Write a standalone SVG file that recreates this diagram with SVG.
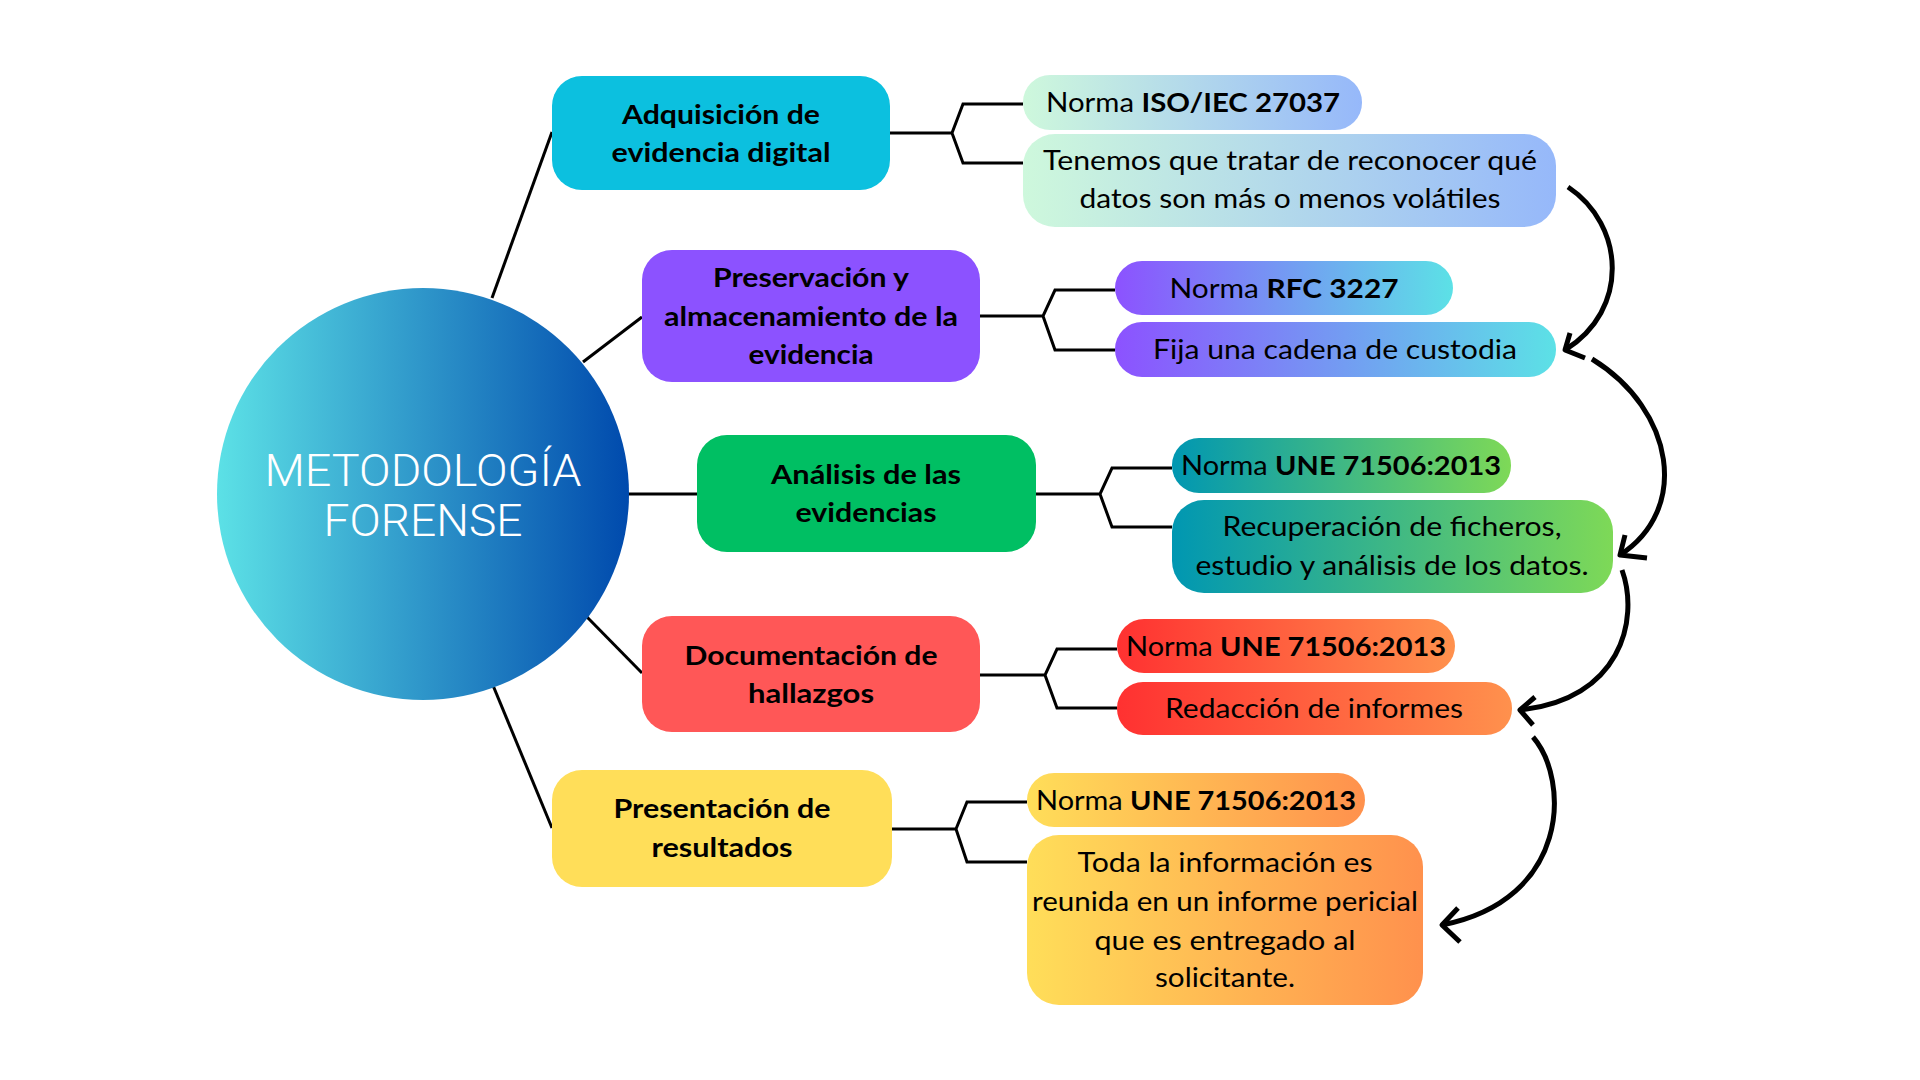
<svg xmlns="http://www.w3.org/2000/svg" width="1920" height="1080" viewBox="0 0 1920 1080">
<defs>
<linearGradient id="gCircle" x1="0" y1="0" x2="1" y2="0"><stop offset="0" stop-color="#5ce1e6"/><stop offset="1" stop-color="#004aad"/></linearGradient>
<linearGradient id="g1" x1="0" y1="0" x2="1" y2="0"><stop offset="0" stop-color="#cef8dc"/><stop offset="1" stop-color="#96b8fa"/></linearGradient>
<linearGradient id="g2" x1="0" y1="0" x2="1" y2="0"><stop offset="0" stop-color="#8c52ff"/><stop offset="1" stop-color="#5ce1e6"/></linearGradient>
<linearGradient id="g3" x1="0" y1="0" x2="1" y2="0"><stop offset="0" stop-color="#0097b2"/><stop offset="1" stop-color="#7ed957"/></linearGradient>
<linearGradient id="g4" x1="0" y1="0" x2="1" y2="0"><stop offset="0" stop-color="#ff3131"/><stop offset="1" stop-color="#ff914d"/></linearGradient>
<linearGradient id="g5" x1="0" y1="0" x2="1" y2="0"><stop offset="0" stop-color="#ffde59"/><stop offset="1" stop-color="#ff914d"/></linearGradient>
</defs>
<style>
.main{font-family:Lato,"Liberation Sans",sans-serif;font-weight:700;font-size:26px;fill:#000;text-anchor:middle}
.sub{font-family:Lato,"Liberation Sans",sans-serif;font-weight:400;font-size:27px;fill:#000;text-anchor:middle}
.sub .b{font-weight:700}
.title{font-family:Roboto,"Liberation Sans",sans-serif;font-weight:300;font-size:44px;fill:#fff;text-anchor:middle}
.ln{fill:none;stroke:#000;stroke-width:3;stroke-linejoin:miter}
.arr{fill:none;stroke:#000;stroke-width:5;stroke-linecap:butt;stroke-linejoin:round}
</style>
<rect width="1920" height="1080" fill="#fff"/>

<g id="connectors">
<path class="ln" d="M492,298 L552,132"/>
<path class="ln" d="M583,362 L642,317"/>
<path class="ln" d="M628,494 L697,494"/>
<path class="ln" d="M587,617 L642,673"/>
<path class="ln" d="M492,683 L552,828"/>
<path class="ln" d="M890,133 L952,133 M1023,104 L963,104 L952,133 L963,163 L1023,163"/>
<path class="ln" d="M980,316 L1043,316 M1115,290 L1055,290 L1043,316 L1055,350 L1115,350"/>
<path class="ln" d="M1036,494 L1100,494 M1172,468 L1112,468 L1100,494 L1112,527 L1172,527"/>
<path class="ln" d="M980,675 L1045,675 M1117,649 L1057,649 L1045,675 L1057,708 L1117,708"/>
<path class="ln" d="M892,829 L956,829 M1027,802 L967,802 L956,829 L967,862 L1027,862"/>
<path class="arr" d="M1568,187 C1625,225 1630,310 1565,350"/>
<path class="arr" d="M1570,333 L1565,350 L1585,358"/>
<path class="arr" d="M1592,359 C1675,410 1690,510 1620,555"/>
<path class="arr" d="M1625,535 L1620,555 L1647,558"/>
<path class="arr" d="M1622,570 C1640,620 1620,700 1520,710"/>
<path class="arr" d="M1535,697 L1520,710 L1533,725"/>
<path class="arr" d="M1533,737 C1570,780 1570,900 1442,925"/>
<path class="arr" d="M1458,908 L1442,925 L1460,942"/>
</g>

<g id="center">
<circle cx="423" cy="494" r="206" fill="url(#gCircle)"/>
<text class="title" x="423" y="486" textLength="317" lengthAdjust="spacingAndGlyphs">METODOLOGÍA</text>
<text class="title" x="423" y="536" textLength="199" lengthAdjust="spacingAndGlyphs">FORENSE</text>
</g>

<g id="n1">
<rect x="552" y="76" width="338" height="114" rx="30" fill="#0cc0df"/>
<text class="main" x="721" y="124" textLength="198" lengthAdjust="spacingAndGlyphs">Adquisición de</text>
<text class="main" x="721" y="162" textLength="219" lengthAdjust="spacingAndGlyphs">evidencia digital</text>
</g>
<g id="n2">
<rect x="642" y="250" width="338" height="132" rx="30" fill="#8c52ff"/>
<text class="main" x="811" y="287" textLength="196" lengthAdjust="spacingAndGlyphs">Preservación y</text>
<text class="main" x="811" y="326" textLength="294" lengthAdjust="spacingAndGlyphs">almacenamiento de la</text>
<text class="main" x="811" y="364" textLength="125" lengthAdjust="spacingAndGlyphs">evidencia</text>
</g>
<g id="n3">
<rect x="697" y="435" width="339" height="117" rx="30" fill="#00bf63"/>
<text class="main" x="866" y="484" textLength="190" lengthAdjust="spacingAndGlyphs">Análisis de las</text>
<text class="main" x="866" y="522" textLength="141" lengthAdjust="spacingAndGlyphs">evidencias</text>
</g>
<g id="n4">
<rect x="642" y="616" width="338" height="116" rx="30" fill="#ff5757"/>
<text class="main" x="811" y="665" textLength="253" lengthAdjust="spacingAndGlyphs">Documentación de</text>
<text class="main" x="811" y="703" textLength="126" lengthAdjust="spacingAndGlyphs">hallazgos</text>
</g>
<g id="n5">
<rect x="552" y="770" width="340" height="117" rx="30" fill="#ffde59"/>
<text class="main" x="722" y="818" textLength="217" lengthAdjust="spacingAndGlyphs">Presentación de</text>
<text class="main" x="722" y="857" textLength="141" lengthAdjust="spacingAndGlyphs">resultados</text>
</g>

<g id="n1a">
<rect x="1023" y="75" width="339" height="55" rx="27" fill="url(#g1)"/>
<text class="sub" x="1193" y="112" textLength="294" lengthAdjust="spacingAndGlyphs">Norma <tspan class="b">ISO/IEC 27037</tspan></text>
</g>
<g id="n1b">
<rect x="1023" y="134" width="533" height="93" rx="32" fill="url(#g1)"/>
<text class="sub" x="1290" y="170" textLength="494" lengthAdjust="spacingAndGlyphs">Tenemos que tratar de reconocer qué</text>
<text class="sub" x="1290" y="208" textLength="421" lengthAdjust="spacingAndGlyphs">datos son más o menos volátiles</text>
</g>
<g id="n2a">
<rect x="1115" y="261" width="338" height="54" rx="27" fill="url(#g2)"/>
<text class="sub" x="1284" y="298" textLength="229" lengthAdjust="spacingAndGlyphs">Norma <tspan class="b">RFC 3227</tspan></text>
</g>
<g id="n2b">
<rect x="1115" y="322" width="441" height="55" rx="27" fill="url(#g2)"/>
<text class="sub" x="1335" y="359" textLength="364" lengthAdjust="spacingAndGlyphs">Fija una cadena de custodia</text>
</g>
<g id="n3a">
<rect x="1172" y="438" width="339" height="55" rx="27" fill="url(#g3)"/>
<text class="sub" x="1341" y="475" textLength="320" lengthAdjust="spacingAndGlyphs">Norma <tspan class="b">UNE 71506:2013</tspan></text>
</g>
<g id="n3b">
<rect x="1172" y="500" width="441" height="93" rx="32" fill="url(#g3)"/>
<text class="sub" x="1392" y="536" textLength="339" lengthAdjust="spacingAndGlyphs">Recuperación de ficheros,</text>
<text class="sub" x="1392" y="575" textLength="393" lengthAdjust="spacingAndGlyphs">estudio y análisis de los datos.</text>
</g>
<g id="n4a">
<rect x="1117" y="619" width="338" height="54" rx="27" fill="url(#g4)"/>
<text class="sub" x="1286" y="656" textLength="320" lengthAdjust="spacingAndGlyphs">Norma <tspan class="b">UNE 71506:2013</tspan></text>
</g>
<g id="n4b">
<rect x="1117" y="682" width="395" height="53" rx="26" fill="url(#g4)"/>
<text class="sub" x="1314" y="718" textLength="298" lengthAdjust="spacingAndGlyphs">Redacción de informes</text>
</g>
<g id="n5a">
<rect x="1027" y="773" width="338" height="54" rx="27" fill="url(#g5)"/>
<text class="sub" x="1196" y="810" textLength="320" lengthAdjust="spacingAndGlyphs">Norma <tspan class="b">UNE 71506:2013</tspan></text>
</g>
<g id="n5b">
<rect x="1027" y="835" width="396" height="170" rx="32" fill="url(#g5)"/>
<text class="sub" x="1225" y="872" textLength="295" lengthAdjust="spacingAndGlyphs">Toda la información es</text>
<text class="sub" x="1225" y="911" textLength="386" lengthAdjust="spacingAndGlyphs">reunida en un informe pericial</text>
<text class="sub" x="1225" y="950" textLength="261" lengthAdjust="spacingAndGlyphs">que es entregado al</text>
<text class="sub" x="1225" y="987" textLength="140" lengthAdjust="spacingAndGlyphs">solicitante.</text>
</g>
</svg>
